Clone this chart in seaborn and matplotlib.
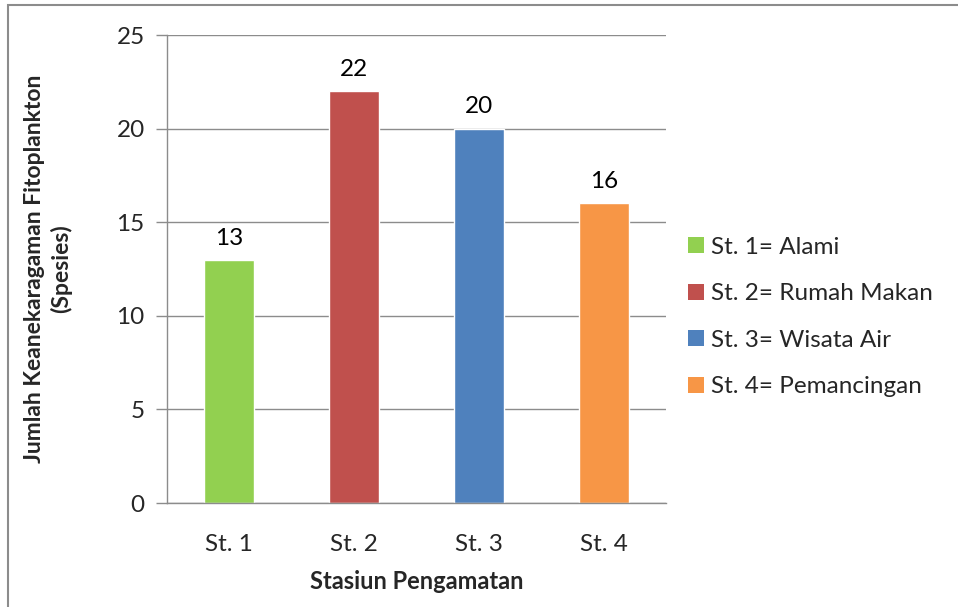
import matplotlib
matplotlib.use("Agg")
import matplotlib.pyplot as plt
import seaborn as sns
import pandas as pd
from matplotlib.patches import Rectangle, Patch

categories = ["St. 1", "St. 2", "St. 3", "St. 4"]
values = [13, 22, 20, 16]
legend_labels = ["St. 1= Alami", "St. 2= Rumah Makan", "St. 3= Wisata Air", "St. 4= Pemancingan"]
colors = ["#92D050", "#C0504D", "#4F81BD", "#F79646"]
y_ticks = [0, 5, 10, 15, 20, 25]

sns.set_theme(style="white")
plt.rcParams['font.family'] = ['Lato', 'DejaVu Sans']

FS = 17.5
W, H = 958, 607
fig = plt.figure(figsize=(W / 100, H / 100), dpi=100)
ax = fig.add_axes([167 / W, 1 - 503 / H, (666 - 167) / W, (503 - 35) / H])

df = pd.DataFrame({"cat": categories, "val": values})
sns.barplot(data=df, x="cat", y="val", hue="cat", palette=colors, width=0.4,
            legend=False, ax=ax, saturation=1)

ax.set_ylim(0, 25)
ax.set_xlim(-0.5, 3.5)
ax.set_yticks(y_ticks)
ax.yaxis.grid(True, color="#8C8C8C", linewidth=1)
ax.set_axisbelow(True)
for s in ["top", "right"]:
    ax.spines[s].set_visible(False)
for s in ["left", "bottom"]:
    ax.spines[s].set_color("#8C8C8C")
    ax.spines[s].set_linewidth(1)
ax.tick_params(axis="y", length=8, width=1, color="#8C8C8C", left=True, labelsize=FS, pad=8)
ax.tick_params(axis="x", length=0, labelsize=FS, pad=22)

for cont in ax.containers:
    ax.bar_label(cont, fmt="%d", padding=8, fontsize=FS, color="#000000")

ax.set_xlabel("Stasiun Pengamatan", fontsize=17, fontweight="bold", labelpad=11)
ax.set_ylabel("Jumlah Keanekaragaman Fitoplankton\n(Spesies)", fontsize=16.5,
              fontweight="bold", labelpad=32, linespacing=1.3)

handles = [Patch(facecolor=c, edgecolor="none") for c in colors]
fig.legend(handles, legend_labels, loc="upper left", bbox_to_anchor=(678 / W, 1 - 227 / H),
           frameon=False, fontsize=FS, handlelength=0.65, handleheight=0.65,
           handletextpad=0.3, labelspacing=1.05, borderaxespad=0)

fig.patches.append(Rectangle((8 / W, -0.1), 1.2, 1 - 5 / H + 0.1, transform=fig.transFigure,
                             fill=False, edgecolor="#8C8C8C", linewidth=1.5, zorder=0))

fig.savefig("out.png", dpi=100)
